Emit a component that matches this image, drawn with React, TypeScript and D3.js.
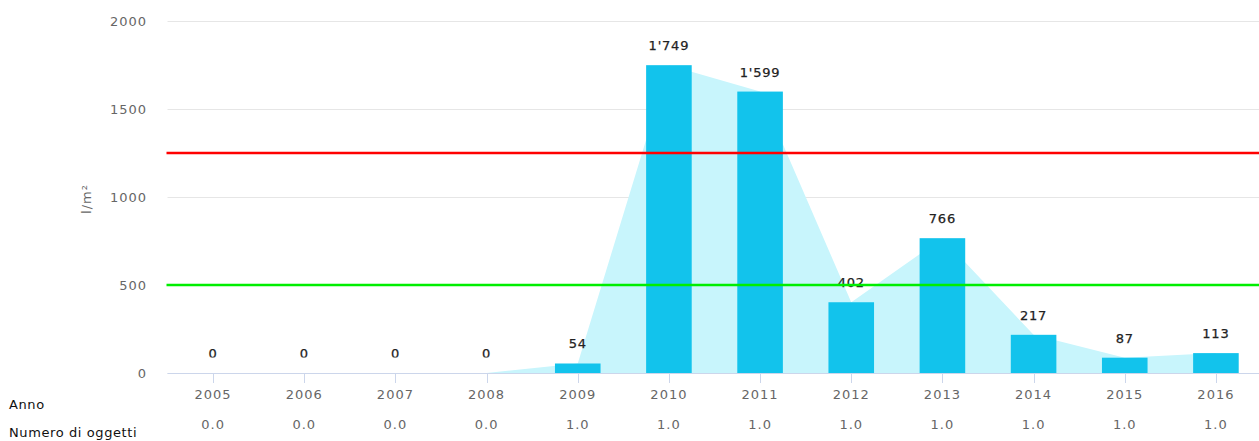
import React, { useRef, useEffect } from "react";
import * as d3 from "d3";

const years = ["2005", "2006", "2007", "2008", "2009", "2010", "2011", "2012", "2013", "2014", "2015", "2016"];
const values = [0, 0, 0, 0, 54, 1749, 1599, 402, 766, 217, 87, 113];
const counts = ["0.0", "0.0", "0.0", "0.0", "1.0", "1.0", "1.0", "1.0", "1.0", "1.0", "1.0", "1.0"];
const yTicks = [0, 500, 1000, 1500, 2000];
const redLimit = 1250;
const greenLimit = 500;

const font = "'DejaVu Sans', Verdana, sans-serif";

const fmt = (v: number) => {
  const s = String(Math.round(v));
  return s.replace(/\B(?=(\d{3})+(?!\d))/g, "'");
};

const App = () => {
  const ref = useRef<SVGSVGElement>(null);

  useEffect(() => {
    const svg = d3.select(ref.current);
    svg.selectAll("*").remove();

    const W = 1259;
    const left = 167.5, right = 1261.5, top = 21, bottom = 373;

    const x = d3.scaleBand().domain(years).range([left, right]).padding(0);
    const y = d3.scaleLinear().domain([0, 2000]).range([bottom, top]);
    const cx = (d: string) => (x(d) as number) + x.bandwidth() / 2;

    const txt = (sel: any, size = 13) =>
      sel
        .attr("font-family", font)
        .attr("font-size", size)
        .attr("letter-spacing", 1)
        .attr("fill", "#666");

    svg.append("defs")
      .append("clipPath")
      .attr("id", "lblclip")
      .append("rect")
      .attr("x", 0)
      .attr("y", 0)
      .attr("width", W)
      .attr("height", 357.5);

    // gridlines
    svg.append("g")
      .selectAll("line")
      .data(yTicks)
      .join("line")
      .attr("x1", left)
      .attr("x2", W)
      .attr("y1", (d) => Math.round(y(d)) + 0.5)
      .attr("y2", (d) => Math.round(y(d)) + 0.5)
      .attr("stroke", "#e6e6e6");

    // y tick labels
    txt(
      svg.append("g")
        .selectAll("text")
        .data(yTicks)
        .join("text")
        .attr("x", 147)
        .attr("y", (d) => y(d) + 5)
        .attr("text-anchor", "end")
    ).text((d) => d);

    // y axis title
    txt(
      svg.append("text")
        .attr("transform", `translate(91,${(top + bottom) / 2 + 2}) rotate(-90)`)
        .attr("text-anchor", "middle")
    ).text("l/m²");

    // area behind bars
    const pts = years.map((d, i) => [cx(d), values[i]] as [number, number]);
    const area = d3.area<[number, number]>()
      .x((d) => d[0])
      .y0(y(0))
      .y1((d) => y(d[1]));

    svg.append("path")
      .datum(pts)
      .attr("d", area)
      .attr("fill", "#c8f5fc");

    // bars
    const bw = x.bandwidth() * 0.5;
    svg.append("g")
      .selectAll("rect")
      .data(years)
      .join("rect")
      .attr("x", (d) => cx(d) - bw / 2)
      .attr("width", bw)
      .attr("y", (d, i) => y(values[i]))
      .attr("height", (d, i) => y(0) - y(values[i]))
      .attr("fill", "#12c3ec");

    // value labels
    svg.append("g")
      .attr("clip-path", "url(#lblclip)")
      .selectAll("text")
      .data(years)
      .join("text")
      .attr("x", (d) => cx(d))
      .attr("y", (d, i) => y(values[i]) - 15)
      .attr("text-anchor", "middle")
      .attr("font-family", font)
      .attr("font-size", 13)
      .attr("letter-spacing", 0.8)
      .attr("fill", "#222")
      .attr("stroke", "#222")
      .attr("stroke-width", 0.25)
      .text((d, i) => fmt(values[i]));

    // limit lines
    [[redLimit, "#ff0000"], [greenLimit, "#00ee00"]].forEach(([v, c]) => {
      svg.append("line")
        .attr("x1", left - 1)
        .attr("x2", W)
        .attr("y1", y(v as number))
        .attr("y2", y(v as number))
        .attr("stroke", c as string)
        .attr("stroke-width", 2.5);
    });

    // x axis
    svg.append("line")
      .attr("x1", left)
      .attr("x2", W)
      .attr("y1", bottom + 0.5)
      .attr("y2", bottom + 0.5)
      .attr("stroke", "#ccd6eb");
    svg.append("g")
      .selectAll("line")
      .data(years)
      .join("line")
      .attr("x1", (d) => Math.round(cx(d)) + 0.5)
      .attr("x2", (d) => Math.round(cx(d)) + 0.5)
      .attr("y1", bottom)
      .attr("y2", bottom + 10)
      .attr("stroke", "#ccd6eb");

    txt(
      svg.append("g")
        .selectAll("text")
        .data(years)
        .join("text")
        .attr("x", (d) => cx(d))
        .attr("y", 399)
        .attr("text-anchor", "middle")
    ).text((d) => d);

    txt(
      svg.append("g")
        .selectAll("text")
        .data(years)
        .join("text")
        .attr("x", (d) => cx(d))
        .attr("y", 429)
        .attr("text-anchor", "middle")
    ).text((d, i) => counts[i]);

    svg.append("text")
      .attr("x", 9)
      .attr("y", 409)
      .attr("font-family", font)
      .attr("font-size", 13)
      .attr("letter-spacing", 0.6)
      .attr("fill", "#111")
      .text("Anno");
    svg.append("text")
      .attr("x", 9)
      .attr("y", 437)
      .attr("font-family", font)
      .attr("font-size", 13)
      .attr("letter-spacing", 0.6)
      .attr("fill", "#111")
      .text("Numero di oggetti");
  }, []);

  return (
    <svg
      ref={ref}
      width={1259}
      height={441}
      style={{ position: "absolute", left: 0, top: 0 }}
    />
  );
};

export default App;
